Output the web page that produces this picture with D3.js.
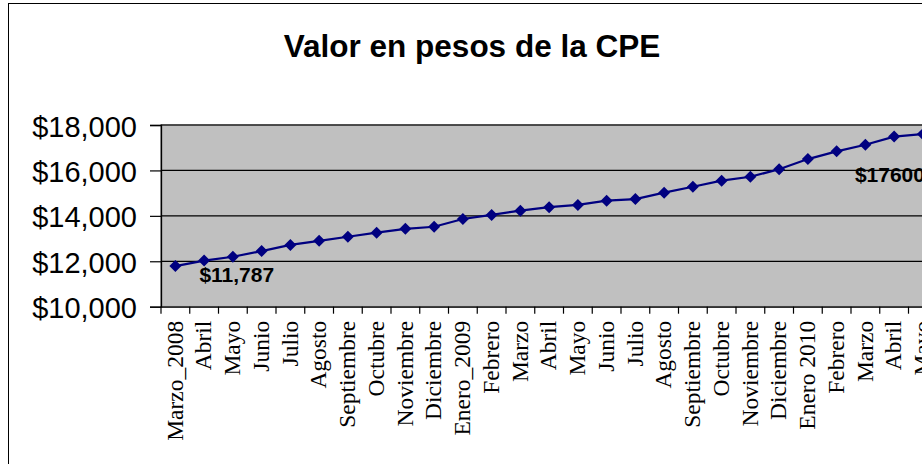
<!DOCTYPE html>
<html><head><meta charset="utf-8">
<script src="https://cdn.jsdelivr.net/npm/d3@7"></script>
<style>body{margin:0;background:#fff}svg{display:block}</style>
</head><body>
<svg id="c" width="922" height="464"></svg>
<script>
const title = "Valor en pesos de la CPE";
const categories = ["Marzo_2008","Abril","Mayo","Junio","Julio","Agosto","Septiembre","Octubre","Noviembre","Diciembre","Enero_2009","Febrero","Marzo","Abril","Mayo","Junio","Julio","Agosto","Septiembre","Octubre","Noviembre","Diciembre","Enero 2010","Febrero","Marzo","Abril","Mayo"];
const values = [11787,12030,12200,12450,12720,12900,13080,13260,13430,13520,13860,14040,14230,14380,14480,14670,14740,15020,15280,15550,15720,16050,16500,16840,17130,17490,17600];
const yTicks = [10000,12000,14000,16000,18000];
const labels = [{i:0, text:"$11,787"},{i:26, text:"$17600"}];

const svg = d3.select("#c");
const keys = categories.map((c,i)=>i);
const x = d3.scaleBand().domain(keys).range([161, 161 + 27*28.75]).padding(0);
const y = d3.scaleLinear().domain([10000,18000]).range([306.7,125]);

// chart frame
svg.append("rect").attr("x",8.5).attr("y",3.5).attr("width",928).attr("height",480)
  .attr("fill","#fff").attr("stroke","#000").attr("stroke-width",1);

// title
svg.append("text").attr("x",472).attr("y",57).attr("text-anchor","middle")
  .attr("font-family","'Liberation Sans', Arial, sans-serif").attr("font-weight","bold")
  .attr("font-size",31.5).attr("fill","#000").text(title);

// plot area
const [x0,x1] = x.range();
svg.append("rect").attr("x",x0).attr("y",y(18000)).attr("width",x1-x0).attr("height",y(10000)-y(18000))
  .attr("fill","#C0C0C0").attr("stroke","#808080").attr("stroke-width",1.5);

// gridlines
svg.append("g").selectAll("line").data(yTicks.filter(v=>v>10000)).join("line")
  .attr("x1",x0).attr("x2",x1).attr("y1",d=>y(d)).attr("y2",d=>y(d))
  .attr("stroke","#000").attr("stroke-width",1.2);

// y axis
const yAxis = d3.axisLeft(y).tickValues(yTicks).tickSize(11).tickPadding(13)
  .tickFormat(d=>"$"+d3.format(",")(d));
const gy = svg.append("g").attr("transform",`translate(${x0},0)`).call(yAxis);
gy.select(".domain").attr("stroke","#000").attr("stroke-width",1.3);
gy.selectAll(".tick line").attr("stroke","#000").attr("stroke-width",1.2);
gy.selectAll(".tick text").attr("font-family","'Liberation Sans', Arial, sans-serif")
  .attr("font-size",29).attr("fill","#000").attr("dy","0.38em");

// x axis
const xAxis = d3.axisBottom(x).tickSize(0).tickFormat(i=>categories[i]);
const gx = svg.append("g").attr("transform",`translate(0,${y(10000)})`).call(xAxis);
gx.select(".domain").attr("stroke","#000").attr("stroke-width",1.3);
gx.selectAll(".tick text").attr("font-family","'Liberation Serif', 'Times New Roman', serif")
  .attr("font-size",23.5).attr("fill","#000")
  .attr("transform","rotate(-90)").attr("text-anchor","end")
  .attr("x",-14).attr("y",-1).attr("dy","0.35em");
// boundary ticks between categories
gx.append("g").selectAll("line").data(d3.range(categories.length+1)).join("line")
  .attr("x1",i=>x0 + i*x.bandwidth()).attr("x2",i=>x0 + i*x.bandwidth())
  .attr("y1",0).attr("y2",7).attr("stroke","#000").attr("stroke-width",1.2);

// line
const cx = i => x(i) + x.bandwidth()/2;
const line = d3.line().x((d,i)=>cx(i)).y(d=>y(d));
svg.append("path").datum(values).attr("d",line).attr("fill","none")
  .attr("stroke","#000080").attr("stroke-width",2.2);

// markers
svg.append("g").selectAll("path").data(values).join("path")
  .attr("transform",(d,i)=>`translate(${cx(i)},${y(d)})`)
  .attr("d","M0,-6L6,0L0,6L-6,0Z").attr("fill","#000080");

// data labels
const offs = {0:[24,16], 26:[-68,48]};
svg.append("g").selectAll("text").data(labels).join("text")
  .attr("x",d=>cx(d.i)+offs[d.i][0]).attr("y",d=>y(values[d.i])+offs[d.i][1])
  .attr("font-family","'Liberation Sans', Arial, sans-serif").attr("font-weight","bold")
  .attr("font-size",21).attr("fill","#000").text(d=>d.text);
</script>
</body></html>
